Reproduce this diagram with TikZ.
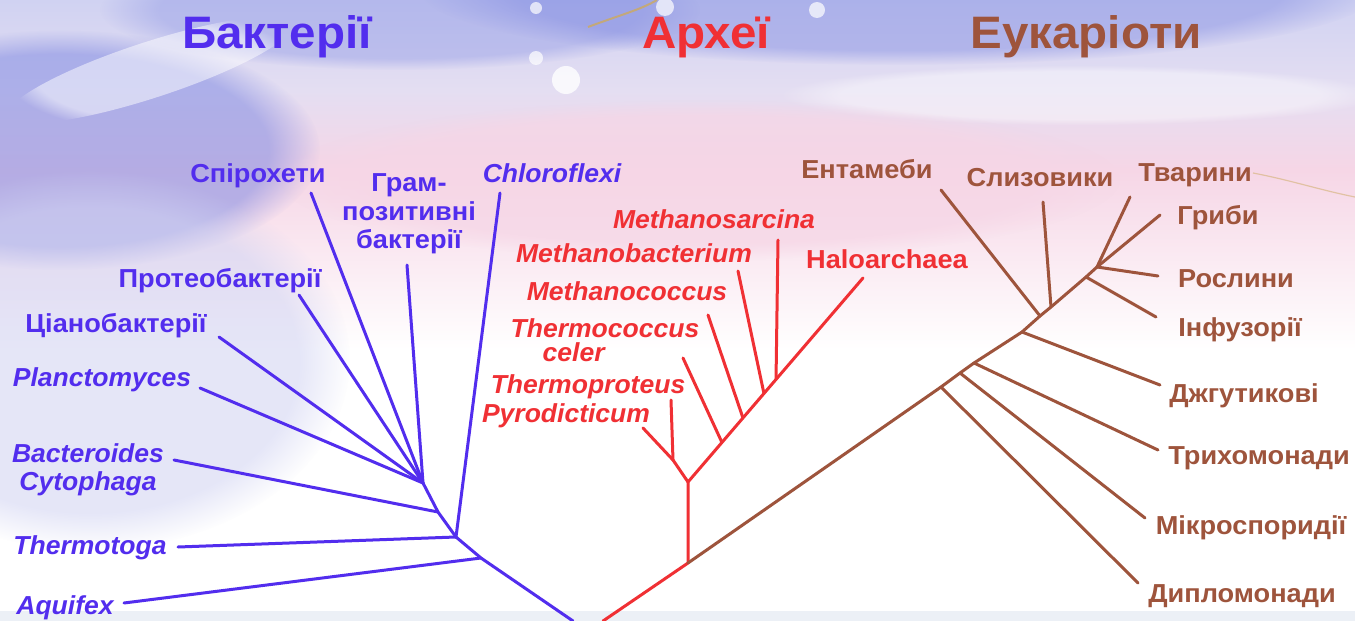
\documentclass[tikz,border=0pt]{standalone}
\usepackage{fontspec}
\setmainfont{Liberation Sans}[BoldFeatures={FakeStretch=1.045},BoldItalicFeatures={FakeStretch=1.02}]
\usetikzlibrary{calc,fadings}
\definecolor{bac}{RGB}{82,45,238}
\definecolor{arc}{RGB}{240,48,52}
\definecolor{euk}{RGB}{158,84,60}
\definecolor{lav}{RGB}{208,210,242}
\definecolor{lav2}{RGB}{228,222,242}
\definecolor{pnk}{RGB}{246,214,230}
\definecolor{wave}{RGB}{128,138,226}
\definecolor{gold}{RGB}{205,170,95}
\definecolor{strip}{RGB}{236,240,246}
\begin{document}
\begin{tikzpicture}[x=1pt,y=-1pt,
  bline/.style={draw=bac,line width=3pt,line cap=round,line join=round},
  aline/.style={draw=arc,line width=3pt,line cap=round,line join=round},
  eline/.style={draw=euk,line width=3pt,line cap=round,line join=round},
  lab/.style={font=\fontsize{26}{28.5}\selectfont\bfseries,inner sep=0pt,anchor=base},
  labi/.style={font=\fontsize{26}{28.5}\selectfont\bfseries\itshape,inner sep=0pt,anchor=base},
  ttl/.style={font=\fontsize{45.5}{48}\selectfont\bfseries,inner sep=0pt,anchor=base},
  blob/.style={path fading=circle with fuzzy edge 20 percent}]
% ---------- background ----------
\useasboundingbox (0,0) rectangle (1355,621);
\fill[white] (0,0) rectangle (1355,621);
\shade[top color=lav,bottom color=lav2] (0,0) rectangle (1355,90);
\shade[top color=lav2,bottom color=pnk] (0,90) rectangle (1355,170);
\shade[top color=pnk,bottom color=white] (0,170) rectangle (1355,350);
\fill[wave,opacity=0.55,blob] (60,150) ellipse [x radius=260,y radius=120];
\fill[wave,opacity=0.45,blob] (900,-10) ellipse [x radius=480,y radius=75];
\fill[wave,opacity=0.35,blob] (400,10) ellipse [x radius=300,y radius=60];
\fill[white,opacity=0.5,blob,rotate around={18:(150,70)}] (150,70) ellipse [x radius=150,y radius=28];
\fill[white,opacity=0.4,blob] (1080,95) ellipse [x radius=300,y radius=30];
\fill[pnk,opacity=0.7,blob] (700,180) ellipse [x radius=420,y radius=80];
\fill[lav,opacity=0.55,blob] (90,360) ellipse [x radius=260,y radius=190];
\fill[white,opacity=0.8] (566,80) circle [radius=14];
\fill[white,opacity=0.7] (536,58) circle [radius=7];
\fill[white,opacity=0.7] (817,10) circle [radius=8];
\fill[white,opacity=0.7] (536,8) circle [radius=6];
\fill[white,opacity=0.7] (665,7) circle [radius=9];
\draw[gold,line width=2pt,opacity=0.8] (588,27) .. controls (620,15) and (640,10) .. (657,0);
\draw[gold,line width=1.2pt,opacity=0.5] (1253,173) .. controls (1290,180) and (1320,190) .. (1355,197);
\fill[strip] (0,611) rectangle (1355,621);
% ---------- titles ----------
\node[ttl,text=bac] (tB) at (277,48) {Бактерії};
\node[ttl,text=arc] (tA) at (706,48) {Археї};
\node[ttl,text=euk] (tE) at (1086,48) {Еукаріоти};
% ---------- bacteria ----------
\coordinate (bRoot) at (573,621);
\coordinate (bA) at (481,558);
\coordinate (bT) at (456,537);
\coordinate (bB) at (438,512);
\coordinate (bF) at (423,483);
\coordinate (eAqu) at (124,603);
\coordinate (eThe) at (178,547);
\coordinate (eChl) at (500,193);
\coordinate (eBac) at (174,460);
\coordinate (ePla) at (200,388);
\coordinate (eCya) at (219,337);
\coordinate (ePro) at (299,295);
\coordinate (eSpi) at (311,193);
\coordinate (eGra) at (407,265);
\draw[bline] (bRoot) -- (bA) -- (bT) -- (bB) -- (bF);
\draw[bline] (eAqu) -- (bA);
\draw[bline] (eThe) -- (bT);
\draw[bline] (eChl) -- (bT);
\draw[bline] (eBac) -- (bB);
\draw[bline] (ePla) -- (bF);
\draw[bline] (eCya) -- (bF);
\draw[bline] (ePro) -- (bF);
\draw[bline] (eSpi) -- (bF);
\draw[bline] (eGra) -- (bF);
\node[lab,text=bac] (lSpi) at (258,182) {Спірохети};
\node[lab,text=bac,align=center,anchor=center] (lGra) at (409,214) {Грам-\\позитивні\\бактерії};
\node[labi,text=bac] (lChl) at (552,182) {Chloroflexi};
\node[lab,text=bac] (lPro) at (220,287) {Протеобактерії};
\node[lab,text=bac] (lCya) at (116,332) {Ціанобактерії};
\node[labi,text=bac] (lPla) at (102,386) {Planctomyces};
\node[labi,text=bac,align=center,anchor=center] (lBac) at (88,470) {Bacteroides\\Cytophaga};
\node[labi,text=bac] (lThe) at (90,554) {Thermotoga};
\node[labi,text=bac] (lAqu) at (65,614) {Aquifex};
% ---------- archaea ----------
\coordinate (aRoot) at (603,621);
\coordinate (aS) at (688,563);
\coordinate (aN) at (688,482);
\coordinate (aP) at (673,460);
\coordinate (ePyr) at (643,428);
\coordinate (eTpr) at (671,400);
\coordinate (eHal) at (863,278);
\coordinate (j1) at ($(aN)!0.194!(eHal)$);
\coordinate (j2) at ($(aN)!0.314!(eHal)$);
\coordinate (j3) at ($(aN)!0.434!(eHal)$);
\coordinate (j4) at ($(aN)!0.503!(eHal)$);
\coordinate (eTce) at (683,358);
\coordinate (eMco) at (708,315);
\coordinate (eMba) at (738,271);
\coordinate (eMsa) at (778,240);
\draw[aline] (aRoot) -- (aS) -- (aN) -- (eHal);
\draw[aline] (aN) -- (aP);
\draw[aline] (ePyr) -- (aP);
\draw[aline] (eTpr) -- (aP);
\draw[aline] (eTce) -- (j1);
\draw[aline] (eMco) -- (j2);
\draw[aline] (eMba) -- (j3);
\draw[aline] (eMsa) -- (j4);
\node[labi,text=arc] (lMsa) at (714,228) {Methanosarcina};
\node[labi,text=arc] (lMba) at (634,262) {Methanobacterium};
\node[lab,text=arc] (lHal) at (887,268) {Haloarchaea};
\node[labi,text=arc] (lMco) at (627,300) {Methanococcus};
\node[labi,text=arc,align=left,anchor=center,font=\fontsize{26}{24}\selectfont\bfseries\itshape] (lTce) at (605,340) {Thermococcus\\\hspace*{32pt}celer};
\node[labi,text=arc] (lTpr) at (588,393) {Thermoproteus};
\node[labi,text=arc] (lPyr) at (566,422) {Pyrodicticum};
% ---------- eukaryotes ----------
\coordinate (k1) at (941,387);
\coordinate (k2) at (960,373);
\coordinate (k3) at (974,363);
\coordinate (k4) at (1022,332);
\coordinate (k5) at (1040,316);
\coordinate (k6) at (1051,307);
\coordinate (k7) at (1086,277);
\coordinate (k8) at (1097,267);
\coordinate (eEnt) at (941,190);
\coordinate (eSli) at (1043,202);
\coordinate (eTva) at (1130,197);
\coordinate (eGri) at (1160,215);
\coordinate (eRos) at (1158,276);
\coordinate (eInf) at (1156,317);
\coordinate (eDzh) at (1160,385);
\coordinate (eTri) at (1158,450);
\coordinate (eMik) at (1145,518);
\coordinate (eDip) at (1138,583);
\draw[eline] (aS) -- (k1) -- (k2) -- (k3) -- (k4) -- (k5) -- (k6) -- (k7) -- (k8);
\draw[eline] (eEnt) -- (k5);
\draw[eline] (eSli) -- (k6);
\draw[eline] (eTva) -- (k8);
\draw[eline] (eGri) -- (k8);
\draw[eline] (eRos) -- (k8);
\draw[eline] (eInf) -- (k7);
\draw[eline] (eDzh) -- (k4);
\draw[eline] (eTri) -- (k3);
\draw[eline] (eMik) -- (k2);
\draw[eline] (eDip) -- (k1);
\node[lab,text=euk] (lEnt) at (867,178) {Ентамеби};
\node[lab,text=euk] (lSli) at (1040,186) {Слизовики};
\node[lab,text=euk] (lTva) at (1195,181) {Тварини};
\node[lab,text=euk] (lGri) at (1218,224) {Гриби};
\node[lab,text=euk] (lRos) at (1236,287) {Рослини};
\node[lab,text=euk] (lInf) at (1240,336) {Інфузорії};
\node[lab,text=euk] (lDzh) at (1244,402) {Джгутикові};
\node[lab,text=euk] (lTri) at (1259,464) {Трихомонади};
\node[lab,text=euk] (lMik) at (1251,534) {Мікроспоридії};
\node[lab,text=euk] (lDip) at (1242,602) {Дипломонади};
\end{tikzpicture}
\end{document}
